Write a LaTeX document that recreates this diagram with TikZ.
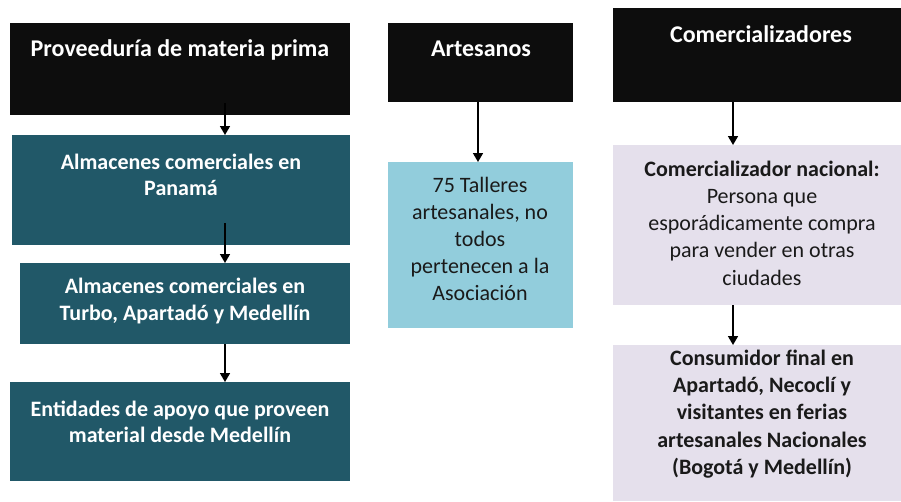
\documentclass[tikz,border=0pt]{standalone}
\usepackage{fontspec}
\setmainfont{Carlito}
\usetikzlibrary{arrows.meta}
\definecolor{hdr}{HTML}{0D0D0D}
\definecolor{teal}{HTML}{215868}
\definecolor{lblue}{HTML}{92CDDC}
\definecolor{lpink}{HTML}{E5E0EC}
\definecolor{dtext}{HTML}{1A1A1A}
\begin{document}
\begin{tikzpicture}[x=1pt,y=-1pt,
  boxbase/.style={rectangle, inner sep=0pt, anchor=north west, draw=none},
  hdrbox/.style={boxbase, fill=hdr},
  tealbox/.style={boxbase, fill=teal},
  bluebox/.style={boxbase, fill=lblue},
  pinkbox/.style={boxbase, fill=lpink},
  htxt/.style={inner sep=0pt, align=center, text=white, font=\fontsize{24}{28}\selectfont\bfseries},
  wtxt/.style={inner sep=0pt, align=center, text=white, font=\fontsize{22}{26.5}\selectfont\bfseries},
  dtxt/.style={inner sep=0pt, align=center, text=dtext, font=\fontsize{22}{27.2}\selectfont},
  arr/.style={line width=1.6pt, -{Triangle[width=10pt,length=9pt]}}
]
\useasboundingbox (0,0) rectangle (901,501);
% left column
\node[hdrbox, minimum width=340pt, minimum height=92pt] (p1) at (10,23) {};
\node[tealbox, minimum width=338pt, minimum height=110pt] (p2) at (12,135) {};
\node[tealbox, minimum width=330pt, minimum height=81pt] (p3) at (20,263) {};
\node[tealbox, minimum width=340pt, minimum height=99pt] (p4) at (10,382) {};
\node[htxt] (t1) at (180,50) {Proveeduría de materia prima};
\node[wtxt] (t2) at (181,175) {Almacenes comerciales en\\Panamá};
\node[wtxt] (t3) at (185,301) {Almacenes comerciales en\\Turbo, Apartadó y Medellín};
\node[wtxt] (t4) at (180,422) {Entidades de apoyo que proveen\\material desde Medellín};
\coordinate (p1a) at (225,103);
\coordinate (p2a) at (225,223);
\draw[arr] (p1a) -- (p1a |- p2.north);
\draw[arr] (p2a) -- (p2a |- p3.north);
\draw[arr] (p3.south -| p1a) -- (p1a |- p4.north);
% middle column
\node[hdrbox, minimum width=185pt, minimum height=79pt] (a1) at (388,23) {};
\node[bluebox, minimum width=185pt, minimum height=166pt] (a2) at (388,162) {};
\node[htxt] (ta1) at (481,49) {Artesanos};
\node[dtxt] (ta2) at (480,239) {75 Talleres\\artesanales, no\\todos\\pertenecen a la\\Asociación};
\coordinate (a1a) at (478,102);
\draw[arr] (a1a) -- (a1a |- a2.north);
% right column
\node[hdrbox, minimum width=288pt, minimum height=94pt] (c1) at (613,8) {};
\node[pinkbox, minimum width=288pt, minimum height=160pt] (c2) at (613,145) {};
\node[pinkbox, minimum width=288pt, minimum height=156pt] (c3) at (613,345) {};
\node[htxt] (tc1) at (761,34) {Comercializadores};
\node[dtxt] (tc2) at (762,223) {\textbf{Comercializador nacional:}\\Persona que\\esporádicamente compra\\para vender en otras\\ciudades};
\node[dtxt, font=\fontsize{22}{27.2}\selectfont\bfseries] (tc3) at (762,414) {Consumidor final en\\Apartadó, Necoclí y\\visitantes en ferias\\artesanales Nacionales\\(Bogotá y Medellín)};
\coordinate (c1a) at (733,102);
\draw[arr] (c1a) -- (c1a |- c2.north);
\draw[arr] (c2.south -| c1a) -- (c1a |- c3.north);
\end{tikzpicture}
\end{document}
